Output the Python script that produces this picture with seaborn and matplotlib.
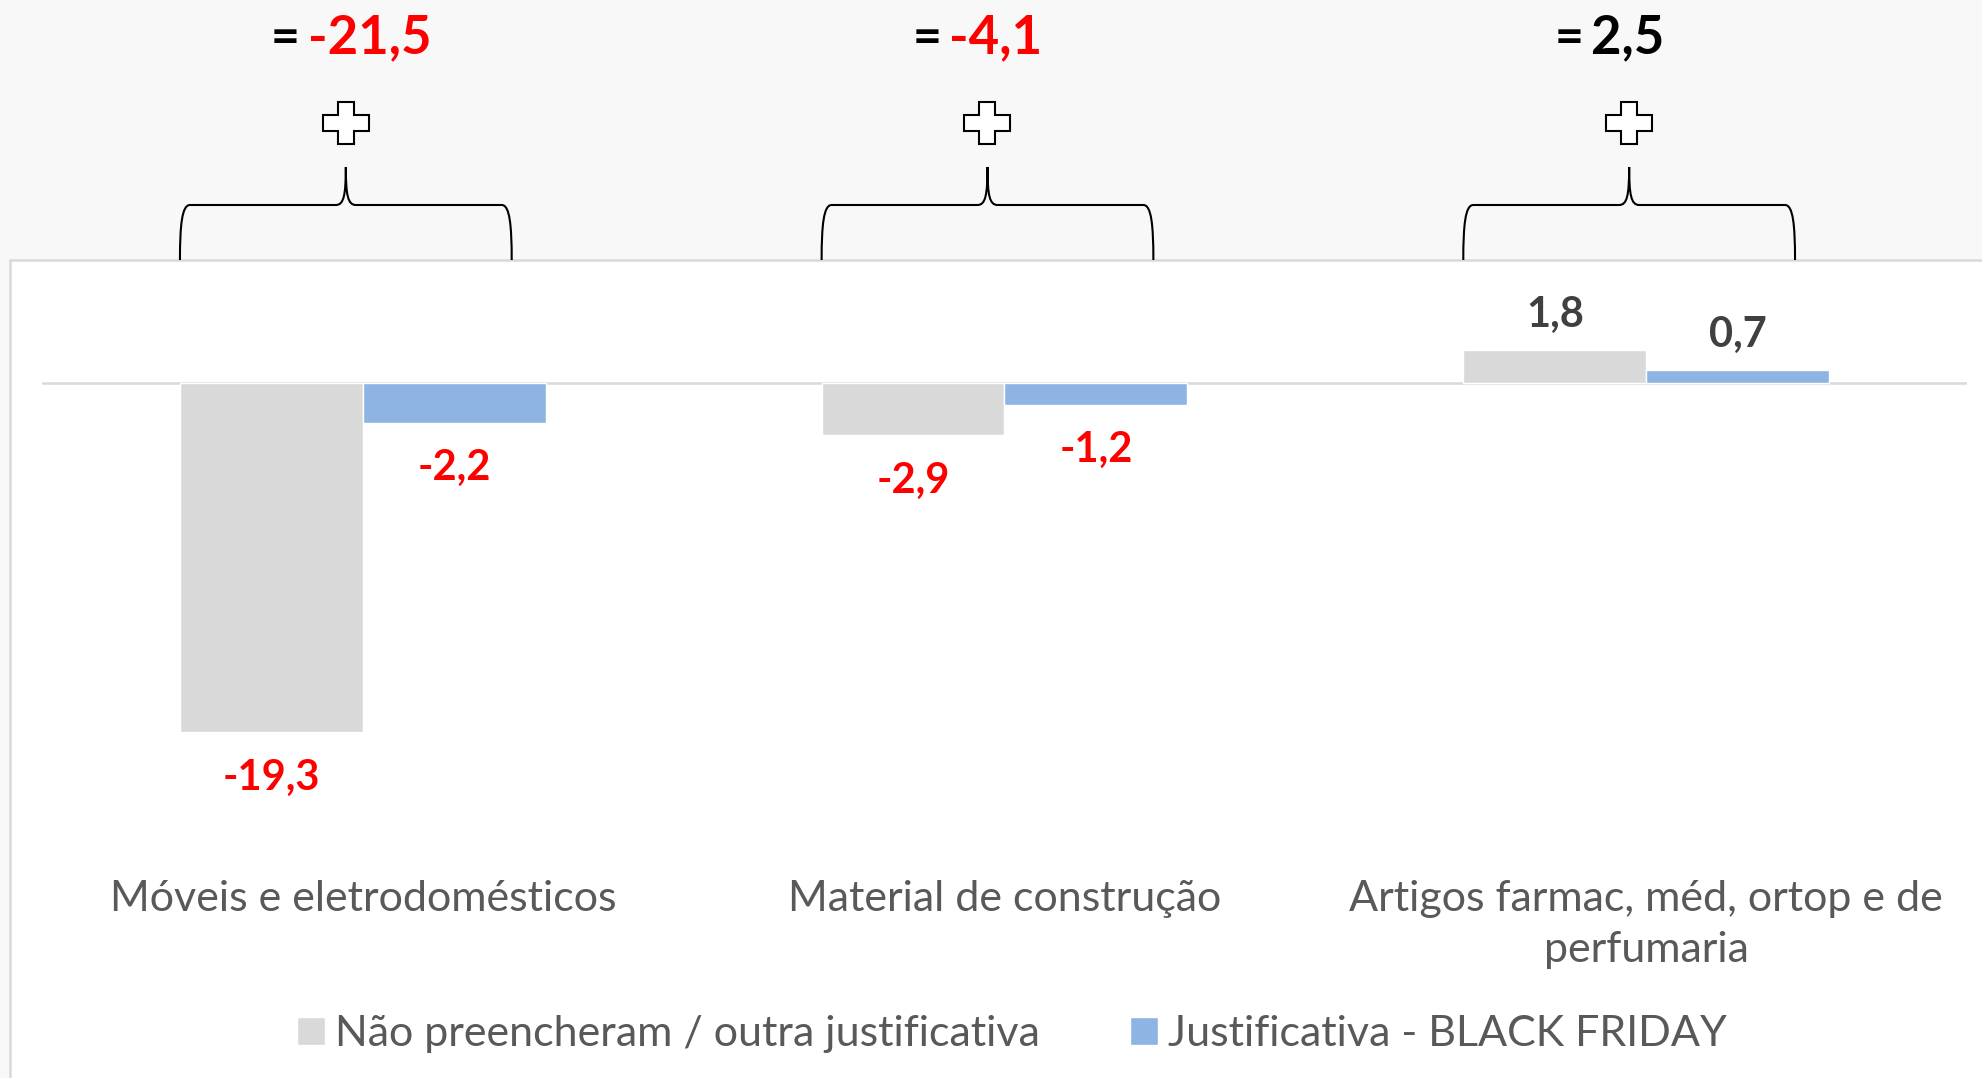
import textwrap
import seaborn as sns
import pandas as pd
import matplotlib.pyplot as plt
from matplotlib.patches import Rectangle, Polygon, PathPatch
from matplotlib.path import Path

# chart data
categorias = ["Móveis e eletrodomésticos", "Material de construção",
              "Artigos farmac, méd, ortop e de perfumaria"]
series = ["Não preencheram / outra justificativa", "Justificativa - BLACK FRIDAY"]
valores_outra = [-19.3, -2.9, 1.8]
valores_bf = [-2.2, -1.2, 0.7]

df = pd.DataFrame({
    "categoria": categorias * 2,
    "serie": [series[0]] * 3 + [series[1]] * 3,
    "valor": valores_outra + valores_bf,
})
totais = [a + b for a, b in zip(valores_outra, valores_bf)]

def fmt(v):
    return f"{v:.1f}".replace(".", ",")

W, H = 1983, 1078
fig = plt.figure(figsize=(W / 100, H / 100), dpi=100, facecolor="#F8F8F8")
sns.set_style("white")
plt.rcParams["font.family"] = ["Lato", "DejaVu Sans"]

def fx(px):
    return px / W

def fy(py):
    return 1 - py / H

# white panel behind the chart
fig.add_artist(Rectangle((fx(10), fy(1200)), 1.2, fy(260) - fy(1200),
                         transform=fig.transFigure, facecolor="white",
                         edgecolor="#D9D9D9", linewidth=1.8, zorder=-1))

ax_top, ax_bot, zero_px, px_unit = 261, 874, 383, 18.1
ax = fig.add_axes([fx(42), fy(ax_bot), fx(1967) - fx(42), fy(ax_top) - fy(ax_bot)])
ax.set_facecolor("none")

sns.barplot(data=df, x="categoria", y="valor", hue="serie", order=categorias,
            hue_order=series, palette=["#D9D9D9", "#8EB4E3"], width=0.57,
            saturation=1, ax=ax)

ax.set_ylim(-(ax_bot - zero_px) / px_unit, (zero_px - ax_top) / px_unit)
ax.set_xlim(-0.5, 2.5)
ax.axhline(0, color="#D9D9D9", linewidth=1.8, zorder=0)
for s in ax.spines.values():
    s.set_visible(False)
ax.set_yticks([])
ax.set_xlabel("")
ax.set_ylabel("")
ax.set_xticks(range(3))
ax.set_xticklabels([textwrap.fill(c, 31) for c in categorias], fontsize=31,
                   color="#595959", linespacing=1.4)
ax.tick_params(axis="x", length=0, pad=4.5)

# value labels
for cont in ax.containers:
    vals = list(cont.datavalues)
    texts = ax.bar_label(cont, labels=[fmt(v) for v in vals], padding=12,
                         fontsize=30, fontweight="bold")
    for t, v in zip(texts, vals):
        t.set_color("#FF0000" if v < 0 else "#404040")
        if v < 0:
            t.xyann = (0, -19)

# legend
ax.legend(loc="center", bbox_to_anchor=(fx(1012), fy(1034)),
          bbox_transform=fig.transFigure, ncol=2, frameon=False, fontsize=31,
          labelcolor="#595959", handlelength=0.65, handleheight=0.65,
          handletextpad=0.22, columnspacing=2.1)

# braces, plus signs and totals above each group
fig.canvas.draw()
to_px = ax.transData
for i, tot in enumerate(totais):
    xl = to_px.transform((i - 0.285, 0))[0]
    xr = to_px.transform((i + 0.232, 0))[0]
    xm = (xl + xr) / 2
    B, Hy, T = 260, 205, 167
    verts = [
        (xl, B), (xl, Hy + 20), (xl + 2, Hy), (xl + 10, Hy),
        (xm - 10, Hy), (xm - 2, Hy), (xm, Hy - 10), (xm, T),
        (xr, B), (xr, Hy + 20), (xr - 2, Hy), (xr - 10, Hy),
        (xm + 10, Hy), (xm + 2, Hy), (xm, Hy - 10), (xm, T),
    ]
    codes = [Path.MOVETO, Path.CURVE4, Path.CURVE4, Path.CURVE4,
             Path.LINETO, Path.CURVE4, Path.CURVE4, Path.CURVE4] * 2
    verts = [(fx(x), fy(y)) for x, y in verts]
    fig.add_artist(PathPatch(Path(verts, codes), transform=fig.transFigure,
                             facecolor="none", edgecolor="black", linewidth=1.5))
    a, b, c = 8, 23, 21
    cross = [(-a, -c), (a, -c), (a, -a), (b, -a), (b, a), (a, a), (a, c),
             (-a, c), (-a, a), (-b, a), (-b, -a), (-a, -a)]
    cross = [(fx(xm + dx), fy(123 + dy)) for dx, dy in cross]
    fig.add_artist(Polygon(cross, closed=True, transform=fig.transFigure,
                           facecolor="white", edgecolor="black", linewidth=1.5))
    fig.text(fx(xm - 46), fy(53), "=", ha="right", va="baseline", fontsize=36,
             fontweight="bold", color="black")
    fig.text(fx(xm - 38), fy(53), fmt(tot), ha="left", va="baseline", fontsize=38,
             fontweight="bold", color="#FF0000" if tot < 0 else "black")

fig.savefig("out.png", dpi=100, facecolor=fig.get_facecolor())
